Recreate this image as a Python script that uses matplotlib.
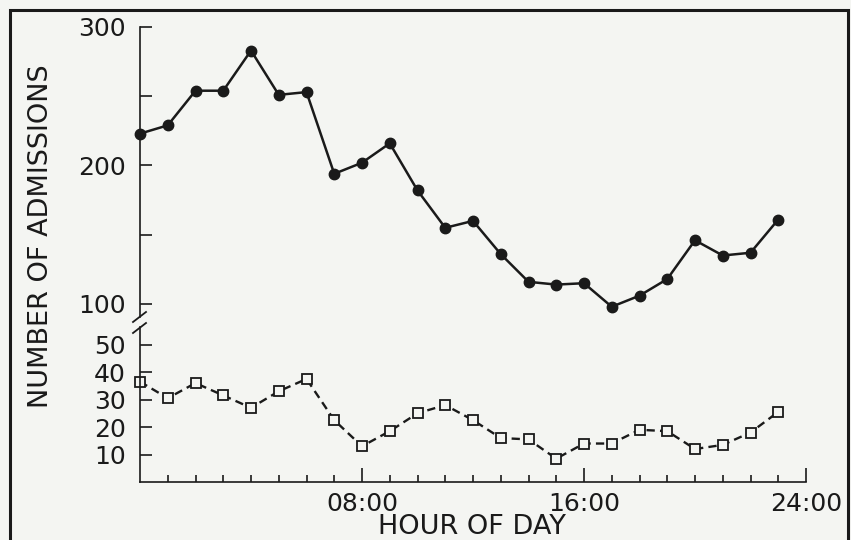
import matplotlib
matplotlib.use("Agg")
import matplotlib.pyplot as plt
from matplotlib.lines import Line2D
from matplotlib.patches import Rectangle

# Data (hour of day, number of admissions)
hours = list(range(24))
upper_series = [223, 229, 254, 254, 283, 251, 253, 194, 202, 216, 182, 155,
                160, 136, 116, 114, 115, 98, 106, 118, 146, 135, 137, 161]
lower_series = [36.5, 30.5, 36, 31.5, 27, 33, 37.5, 22.5, 13, 18.5, 25, 28,
                22.5, 16, 15.5, 8.5, 14, 14, 19, 18.5, 12, 13.5, 18, 25.5]

x_major = [8, 16, 24]
x_major_labels = ["08:00", "16:00", "24:00"]
upper_yticks = [100, 150, 200, 250, 300]
upper_ylabels = ["100", "", "200", "", "300"]
lower_yticks = [10, 20, 30, 40, 50]

W, H = 851, 540
bg = "#f4f5f2"
ink = "#1a1a1a"
plt.rcParams["font.family"] = ["DejaVu Sans"]

fig = plt.figure(figsize=(W / 100, H / 100), dpi=100, facecolor=bg)

def px(x0, y_top, x1, y_bot):
    return [x0 / W, 1 - y_bot / H, (x1 - x0) / W, (y_bot - y_top) / H]

ax_top = fig.add_axes(px(140, 27, 806, 317))
ax_bot = fig.add_axes(px(140, 327, 806, 482))

for ax in (ax_top, ax_bot):
    ax.set_facecolor("none")
    ax.set_xlim(0, 24)
    for s in ("top", "right"):
        ax.spines[s].set_visible(False)
    ax.spines["left"].set_linewidth(1.2)
    ax.spines["bottom"].set_linewidth(1.2)
    ax.spines["left"].set_color(ink)
    ax.spines["bottom"].set_color(ink)
    ax.tick_params(axis="y", direction="in", length=8.5, width=1.2,
                   labelsize=18, pad=10, color=ink, labelcolor=ink)

# upper part
ax_top.plot(hours, upper_series, color=ink, lw=1.8, marker="o",
            markersize=7.5, clip_on=False)
ax_top.set_ylim(90.6, 300)
ax_top.set_yticks(upper_yticks)
ax_top.set_yticklabels(upper_ylabels)
ax_top.spines["bottom"].set_visible(False)
ax_top.set_xticks([])

# lower part
ax_bot.plot(hours, lower_series, color=ink, lw=1.7, ls=(0, (3.5, 2.2)),
            marker="s", markersize=7, markerfacecolor=bg,
            markeredgecolor=ink, markeredgewidth=1.3, clip_on=False)
ax_bot.set_ylim(0, 56.4)
ax_bot.set_yticks(lower_yticks)
ax_bot.set_xticks(x_major)
ax_bot.set_xticklabels(x_major_labels)
ax_bot.set_xticks(hours[1:], minor=True)
ax_bot.tick_params(axis="x", which="major", direction="in", length=10,
                   width=1.2, labelsize=18, pad=7, color=ink, labelcolor=ink)
ax_bot.tick_params(axis="x", which="minor", direction="in", length=5,
                   width=1.2, color=ink)

# axis break marks
for y0 in (322, 333):
    fig.add_artist(Line2D([133 / W, 146 / W], [1 - y0 / H, 1 - (y0 - 10) / H],
                          color=ink, lw=1.3))

# labels
fig.text(41 / W, 1 - 236 / H, "NUMBER OF ADMISSIONS", rotation=90,
         ha="center", va="center", fontsize=19.5, color=ink)
fig.text(472 / W, 1 - 527 / H, "HOUR OF DAY", ha="center", va="center",
         fontsize=19.5, color=ink)

# outer frame
fig.add_artist(Rectangle((9.5 / W, -0.05), (848 - 9.5) / W, 1.05 - 9.5 / H,
                         fill=False, edgecolor=ink, lw=2.2,
                         transform=fig.transFigure))

fig.savefig("out.png", dpi=100, facecolor=bg)
